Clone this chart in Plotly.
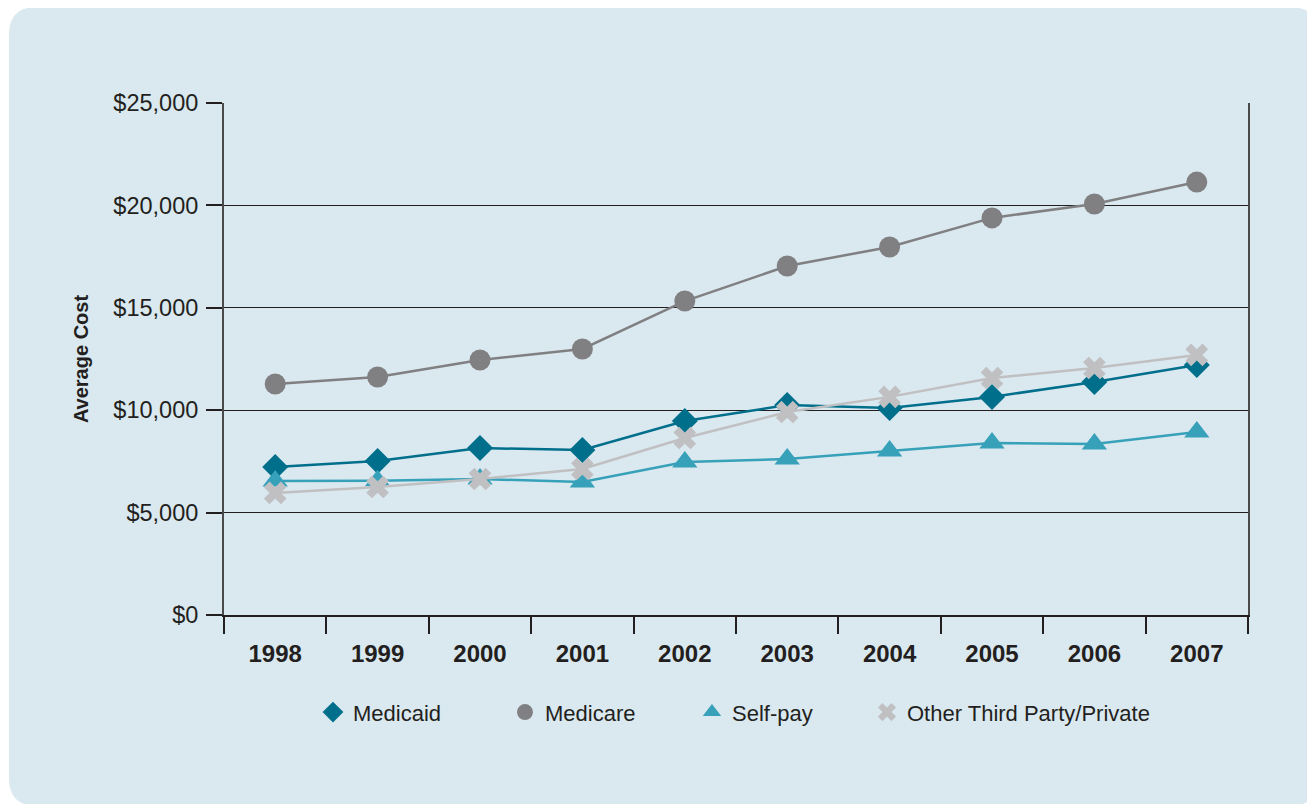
import plotly.graph_objects as go

years = ['1998', '1999', '2000', '2001', '2002', '2003', '2004', '2005', '2006', '2007']
medicaid = [7230, 7520, 8150, 8060, 9470, 10250, 10110, 10650, 11380, 12210]
medicare = [11280, 11620, 12450, 12990, 15330, 17040, 17970, 19390, 20070, 21140]
self_pay = [6540, 6550, 6640, 6490, 7470, 7620, 8010, 8400, 8350, 8940]
other = [5960, 6250, 6640, 7130, 8640, 9910, 10650, 11570, 12060, 12700]

y_ticks = [0, 5000, 10000, 15000, 20000, 25000]
y_labels = ['$0', '$5,000', '$10,000', '$15,000', '$20,000', '$25,000']

FONT = "Liberation Sans, Arial, sans-serif"
BG = '#dae8ef'
INK = '#231f20'

series = [
    ('Medicaid', medicaid, '#006f8c', 'diamond', 20),
    ('Medicare', medicare, '#808083', 'circle', 21),
    ('Self-pay', self_pay, '#36a1b9', 'triangle-up', 22),
    ('Other Third Party/Private', other, '#c0c0c3', 'x', 20),
]
legend_ids = ['legend', 'legend2', 'legend3', 'legend4']
legend_x = [0.0869, 0.2744, 0.4570, 0.6279]

fig = go.Figure()

# real traces (lines + markers), legend hidden
for name, vals, color, sym, size in series:
    fig.add_trace(go.Scatter(x=years, y=vals, mode='lines+markers',
                             line=dict(color=color, width=2.5),
                             marker=dict(symbol=sym, size=size, color=color),
                             showlegend=False, hoverinfo='x+y', name=name))

# legend entries: markers only, each in its own legend box so the spacing matches
for (name, vals, color, sym, size), lid in zip(series, legend_ids):
    fig.add_trace(go.Scatter(x=[None], y=[None], mode='markers',
                             marker=dict(symbol=sym, size=size, color=color),
                             name=name, legend=lid))

# page body has an 8px margin, so the figure is laid out 8px smaller
W, H = 1307, 796
L, R, T, B = 216, 1240, 95, 607

def px(x):
    return (x - 224) / 1024

def py(y):
    return (615 - y) / 512

# rounded background panel (reference pixel coords)
x0, x1, y0, y1, r = 9, 1318, 7, 806, 28
path = (f"M {px(x0 + r)},{py(y0)} L {px(x1 - r)},{py(y0)} "
        f"Q {px(x1)},{py(y0)} {px(x1)},{py(y0 + r)} "
        f"L {px(x1)},{py(y1 - r)} Q {px(x1)},{py(y1)} {px(x1 - r)},{py(y1)} "
        f"L {px(x0 + r)},{py(y1)} Q {px(x0)},{py(y1)} {px(x0)},{py(y1 - r)} "
        f"L {px(x0)},{py(y0 + r)} Q {px(x0)},{py(y0)} {px(x0 + r)},{py(y0)} Z")
fig.add_shape(type='path', path=path, xref='paper', yref='paper',
              fillcolor=BG, line=dict(width=0), layer='below')

legends = {}
for lid, lx in zip(legend_ids, legend_x):
    legends[lid] = dict(orientation='h', x=lx, xanchor='left', y=-0.19, yanchor='middle',
                        font=dict(size=22, family=FONT, color=INK),
                        bgcolor='rgba(0,0,0,0)')

fig.update_layout(
    width=W, height=H,
    margin=dict(l=L, r=W - R, t=T, b=H - B),
    paper_bgcolor='white',
    plot_bgcolor='rgba(0,0,0,0)',
    font=dict(family=FONT, color=INK, size=22),
    **legends,
)

fig.update_xaxes(
    type='category', tickson='boundaries', ticks='outside', ticklen=17,
    tickcolor=INK, tickwidth=1.5,
    showline=True, linecolor=INK, linewidth=2, mirror=False,
    showgrid=False, tickfont=dict(size=24, family=FONT, weight='bold', color=INK),
    ticklabelstandoff=16,
    range=[-0.5, 9.5],
)
fig.update_yaxes(
    range=[0, 25000], tickvals=y_ticks, ticktext=y_labels,
    ticks='outside', ticklen=16, tickcolor=INK, tickwidth=1.5,
    showline=True, linecolor='#4a4a4a', linewidth=2, mirror=True,
    showgrid=True, gridcolor=INK, gridwidth=1.2, zeroline=False,
    tickfont=dict(size=23.5, family=FONT, color=INK),
    ticklabelstandoff=3,
    title=dict(text='Average Cost', font=dict(size=20, family=FONT, weight='bold', color=INK),
               standoff=19),
)

fig.write_html("out.html")
